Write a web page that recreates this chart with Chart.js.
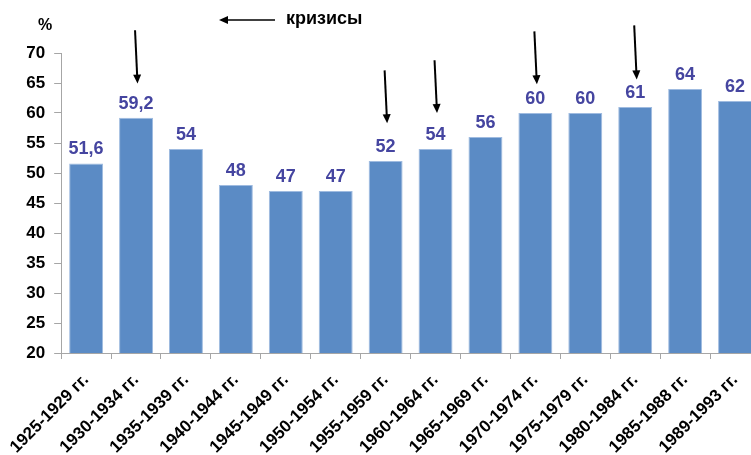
<!DOCTYPE html>
<html>
<head>
<meta charset="utf-8">
<script src="https://cdn.jsdelivr.net/npm/chart.js@4.4.1/dist/chart.umd.min.js"></script>
<style>
  html, body { margin: 0; padding: 0; background: #fff; overflow: hidden; }
  #wrap { width: 770px; height: 455px; }
</style>
</head>
<body>
<div id="wrap"><canvas id="myChart" width="770" height="455"></canvas></div>
<script>
// periods on the x axis
const periods = [
    '1925-1929 гг.', '1930-1934 гг.', '1935-1939 гг.', '1940-1944 гг.',
    '1945-1949 гг.', '1950-1954 гг.', '1955-1959 гг.', '1960-1964 гг.',
    '1965-1969 гг.', '1970-1974 гг.', '1975-1979 гг.', '1980-1984 гг.',
    '1985-1988 гг.', '1989-1993 гг.'
];
// percent values
const values = [51.6, 59.2, 54, 48, 47, 47, 52, 54, 56, 60, 60, 61, 64, 62];
const yTicks = [20, 25, 30, 35, 40, 45, 50, 55, 60, 65, 70];

// crisis arrows: category index, arrow start and tip in axis units
const crisisIdx = [1, 6, 7, 9, 11];
const arrowFrom = [73.8, 67.1, 68.8, 73.6, 74.6];
const arrowTo = [64.9, 58.3, 60.0, 64.8, 65.6];

const FONT = '"Liberation Sans", Arial, sans-serif';

function drawArrow(ctx, x1, y1, x2, y2) {
    const ang = Math.atan2(y2 - y1, x2 - x1);
    const head = 9, w = 4;
    ctx.beginPath();
    ctx.moveTo(x1, y1);
    ctx.lineTo(x2 - Math.cos(ang) * head * 0.8, y2 - Math.sin(ang) * head * 0.8);
    ctx.stroke();
    ctx.beginPath();
    ctx.moveTo(x2, y2);
    ctx.lineTo(x2 - Math.cos(ang) * head - Math.sin(ang) * w, y2 - Math.sin(ang) * head + Math.cos(ang) * w);
    ctx.lineTo(x2 - Math.cos(ang) * head + Math.sin(ang) * w, y2 - Math.sin(ang) * head - Math.cos(ang) * w);
    ctx.closePath();
    ctx.fill();
}

const extras = {
    id: 'extras',
    afterDatasetsDraw(chart) {
        const ctx = chart.ctx;
        const meta = chart.getDatasetMeta(0);
        const y = chart.scales.y;
        ctx.save();
        // value labels
        ctx.fillStyle = '#4545a0';
        ctx.font = 'bold 18px ' + FONT;
        ctx.textAlign = 'center';
        ctx.textBaseline = 'alphabetic';
        meta.data.forEach((bar, i) => {
            ctx.fillText(String(values[i]).replace('.', ','), bar.x, bar.y - 9);
        });
        // crisis arrows
        ctx.strokeStyle = '#000';
        ctx.fillStyle = '#000';
        ctx.lineWidth = 2;
        crisisIdx.forEach((idx, k) => {
            const cx = meta.data[idx].x;
            drawArrow(ctx, cx - 1, y.getPixelForValue(arrowFrom[k]), cx + 1.5, y.getPixelForValue(arrowTo[k]));
        });
        // legend arrow + text
        ctx.lineWidth = 1.5;
        drawArrow(ctx, 275, 20, 219, 20);
        ctx.font = 'bold 18px ' + FONT;
        ctx.textAlign = 'left';
        ctx.textBaseline = 'middle';
        ctx.fillText('кризисы', 286, 19);
        // unit
        ctx.font = 'bold 16px ' + FONT;
        ctx.textAlign = 'center';
        ctx.fillText('%', 45, 26);
        ctx.restore();
    }
};

function createChart() {
    const ctx = document.getElementById('myChart').getContext('2d');
    new Chart(ctx, {
        type: 'bar',
        data: {
            labels: periods,
            datasets: [{
                data: values,
                backgroundColor: '#5b8bc5',
                borderColor: '#9fbbe0',
                borderWidth: 1,
                categoryPercentage: 1,
                barPercentage: 0.68
            }]
        },
        options: {
            responsive: false,
            animation: false,
            layout: { padding: { top: 53, right: 10, left: 0, bottom: 0 } },
            plugins: { legend: { display: false }, tooltip: { enabled: false } },
            scales: {
                y: {
                    min: 20,
                    max: 70,
                    afterBuildTicks(scale) { scale.ticks = yTicks.map(v => ({ value: v })); },
                    afterFit(scale) { scale.width = 60; },
                    border: { color: '#a6a6a6', width: 1 },
                    grid: { drawOnChartArea: false, drawTicks: true, tickLength: 7, color: '#a6a6a6' },
                    ticks: {
                        color: '#000',
                        padding: 9,
                        font: { family: FONT, size: 17, weight: 'bold' }
                    }
                },
                x: {
                    afterFit(scale) { scale.height = 102; },
                    border: { color: '#a6a6a6', width: 1 },
                    grid: { drawOnChartArea: false, drawTicks: true, tickLength: 6, color: '#a6a6a6', offset: true },
                    ticks: {
                        color: '#000',
                        minRotation: 45,
                        maxRotation: 45,
                        autoSkip: false,
                        padding: 11,
                        font: { family: FONT, size: 17, weight: 'bold' }
                    }
                }
            }
        },
        plugins: [extras]
    });
}

document.addEventListener('DOMContentLoaded', createChart);
</script>
</body>
</html>
